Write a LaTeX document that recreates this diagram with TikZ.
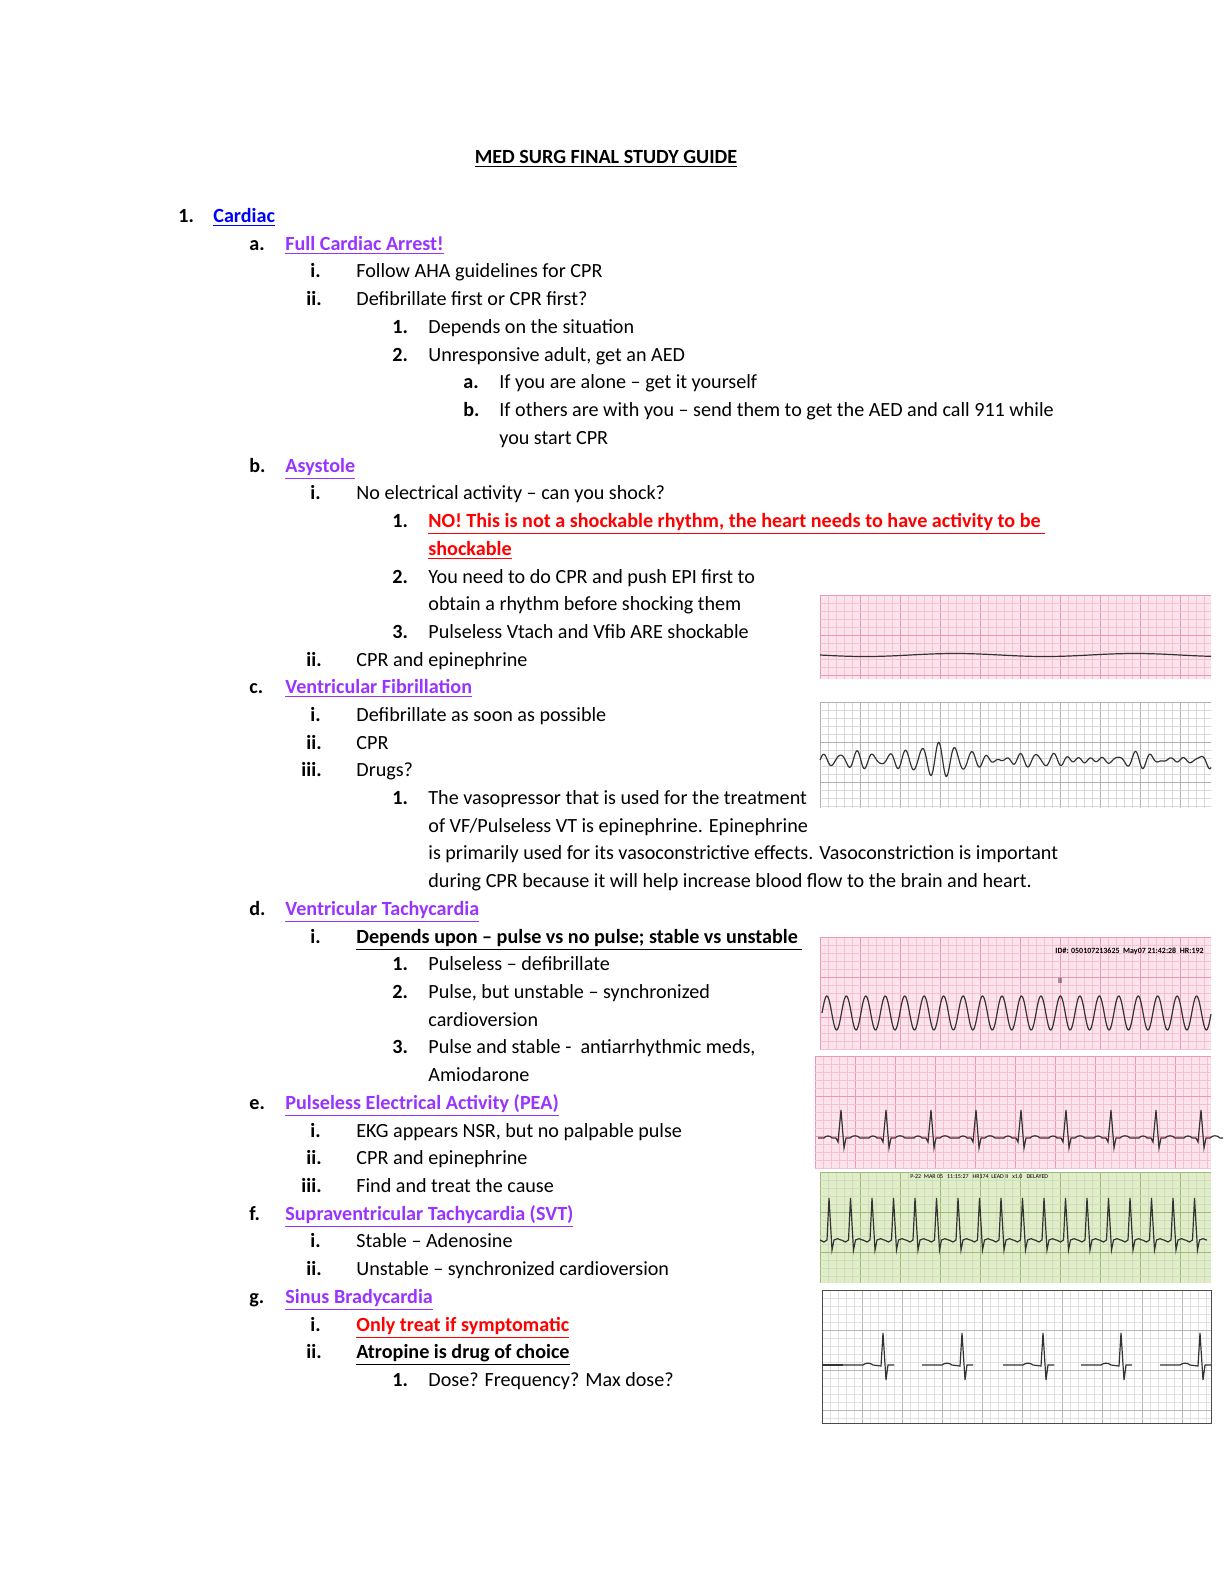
\documentclass[tikz,border=0pt]{standalone}
\usepackage{fontspec}
\setmainfont{Carlito}
\definecolor{lnk}{RGB}{0,0,255}
\definecolor{vio}{RGB}{153,51,255}
\definecolor{pk}{RGB}{240,150,180}
\definecolor{pkb}{RGB}{252,228,236}
\definecolor{gr}{RGB}{150,190,120}
\definecolor{grb}{RGB}{226,236,200}
\begin{document}
\begin{tikzpicture}[x=0.5bp,y=-0.5bp,
 t/.style={anchor=base west,inner sep=0pt,font=\fontsize{10.1}{12}\selectfont},
 lb/.style={anchor=base west,inner sep=0pt,font=\fontsize{10.1}{12}\selectfont\bfseries},
 hd/.style={anchor=base west,inner sep=0pt,font=\fontsize{10.1}{12}\selectfont\bfseries,text=vio},
 ecg/.style={line width=0.6pt,black!80}]
\useasboundingbox (0,0) rectangle (1224,1584);
\node[anchor=base,inner sep=0pt,font=\fontsize{10.1}{12}\selectfont\bfseries] (title) at (606,163) {\underline{MED SURG FINAL STUDY GUIDE}};
\node[lb] (l1) at (178,222) {1.}; \node[t,text=lnk,font=\fontsize{10.1}{12}\selectfont\bfseries] (cardiac) at (213,222) {\underline{Cardiac}};
% a
\node[lb] at (249,250) {a.}; \node[hd] (fca) at (285,250) {\underline{Full Cardiac Arrest!}};
\node[lb] at (310,277) {i.}; \node[t] at (356,277) {Follow AHA guidelines for CPR};
\node[lb] at (306,305) {ii.}; \node[t] at (356,305) {Defibrillate first or CPR first?};
\node[lb] at (392,333) {1.}; \node[t] at (428,333) {Depends on the situation};
\node[lb] at (392,361) {2.}; \node[t] at (428,361) {Unresponsive adult, get an AED};
\node[lb] at (463,388) {a.}; \node[t] at (499,388) {If you are alone -- get it yourself};
\node[lb] at (463,416) {b.}; \node[t] at (499,416) {If others are with you -- send them to get the AED and call 911 while};
\node[t] at (499,444) {you start CPR};
% b
\node[lb] at (249,472) {b.}; \node[hd] (asy) at (285,472) {\underline{Asystole}};
\node[lb] at (310,499) {i.}; \node[t] at (356,499) {No electrical activity -- can you shock?};
\node[lb] at (392,527) {1.}; \node[t,text=red,font=\fontsize{10.1}{12}\selectfont\bfseries] at (428,527) {\underline{NO! This is not a shockable rhythm, the heart needs to have activity to be }};
\node[t,text=red,font=\fontsize{10.1}{12}\selectfont\bfseries] at (428,555) {\underline{shockable}};
\node[lb] at (392,583) {2.}; \node[t] at (428,583) {You need to do CPR and push EPI first to};
\node[t] at (428,610) {obtain a rhythm before shocking them};
\node[lb] at (392,638) {3.}; \node[t] at (428,638) {Pulseless Vtach and Vfib ARE shockable};
\node[lb] at (306,666) {ii.}; \node[t] at (356,666) {CPR and epinephrine};
% c
\node[lb] at (249,693) {c.}; \node[hd] at (285,693) {\underline{Ventricular Fibrillation}};
\node[lb] at (310,721) {i.}; \node[t] at (356,721) {Defibrillate as soon as possible};
\node[lb] at (306,749) {ii.}; \node[t] at (356,749) {CPR};
\node[lb] at (301,776) {iii.}; \node[t] at (356,776) {Drugs?};
\node[lb] at (392,804) {1.}; \node[t] at (428,804) {The vasopressor that is used for the treatment};
\node[t] at (428,832) {of VF/Pulseless VT is epinephrine. Epinephrine};
\node[t] at (428,859) {is primarily used for its vasoconstrictive effects. Vasoconstriction is important};
\node[t] at (428,887) {during CPR because it will help increase blood flow to the brain and heart.};
% d
\node[lb] at (249,915) {d.}; \node[hd] at (285,915) {\underline{Ventricular Tachycardia}};
\node[lb] at (310,943) {i.}; \node[t,font=\fontsize{10.1}{12}\selectfont\bfseries] at (356,943) {\underline{Depends upon -- pulse vs no pulse; stable vs unstable }};
\node[lb] at (392,970) {1.}; \node[t] at (428,970) {Pulseless -- defibrillate};
\node[lb] at (392,998) {2.}; \node[t] at (428,998) {Pulse, but unstable -- synchronized};
\node[t] at (428,1026) {cardioversion};
\node[lb] at (392,1053) {3.}; \node[t] at (428,1053) {Pulse and stable -\ \ antiarrhythmic meds,};
\node[t] at (428,1081) {Amiodarone};
% e
\node[lb] at (249,1109) {e.}; \node[hd] at (285,1109) {\underline{Pulseless Electrical Activity (PEA)}};
\node[lb] at (310,1137) {i.}; \node[t] at (356,1137) {EKG appears NSR, but no palpable pulse};
\node[lb] at (306,1164) {ii.}; \node[t] at (356,1164) {CPR and epinephrine};
\node[lb] at (301,1192) {iii.}; \node[t] at (356,1192) {Find and treat the cause};
% f
\node[lb] at (249,1220) {f.}; \node[hd] at (285,1220) {\underline{Supraventricular Tachycardia (SVT)}};
\node[lb] at (310,1247) {i.}; \node[t] at (356,1247) {Stable -- Adenosine};
\node[lb] at (306,1275) {ii.}; \node[t] at (356,1275) {Unstable -- synchronized cardioversion};
% g
\node[lb] at (249,1303) {g.}; \node[hd] at (285,1303) {\underline{Sinus Bradycardia}};
\node[lb] at (310,1331) {i.}; \node[t,text=red,font=\fontsize{10.1}{12}\selectfont\bfseries] at (356,1331) {\underline{Only treat if symptomatic}};
\node[lb] at (306,1358) {ii.}; \node[t,font=\fontsize{10.1}{12}\selectfont\bfseries] at (356,1358) {\underline{Atropine is drug of choice}};
\node[lb] at (392,1386) {1.}; \node[t] at (428,1386) {Dose? Frequency? Max dose?};

\newcommand{\strip}[7]{%
 \fill[#5] (#1,#2) rectangle (#3,#4);
 \pgfmathtruncatemacro{\nx}{(#3-#1)/8}\pgfmathtruncatemacro{\ny}{(#4-#2)/8}
 \foreach \i in {0,...,\nx}{\pgfmathtruncatemacro{\m}{mod(\i,5)}
   \ifnum\m=0 \draw[#7,line width=0.5pt] ({#1+8*\i},#2) -- ({#1+8*\i},#4);\else
   \draw[#6,line width=0.25pt] ({#1+8*\i},#2) -- ({#1+8*\i},#4);\fi}
 \foreach \i in {0,...,\ny}{\pgfmathtruncatemacro{\m}{mod(\i,5)}
   \ifnum\m=0 \draw[#7,line width=0.5pt] (#1,{#2+8*\i}) -- (#3,{#2+8*\i});\else
   \draw[#6,line width=0.25pt] (#1,{#2+8*\i}) -- (#3,{#2+8*\i});\fi}
}
% asystole
\strip{820}{595}{1211}{679}{pkb}{pk!60}{pk}
\draw[ecg] plot[domain=820:1211,samples=80] (\x,{655+1.5*sin((\x-820)*2)});
% VF
\strip{820}{702}{1211}{808}{white}{black!15}{black!30}
\draw[ecg] plot[domain=820:1211,samples=600] (\x,{760-(3+9*max(0,sin((\x-820)*1.1-30))+4*sin((\x-820)*3.7))*sin((\x-820)*22)-2*sin((\x-820)*31)});
% VT
\strip{820}{937}{1211}{1050}{pkb}{pk!60}{pk}
\draw[ecg] plot[domain=822:1211,samples=500] (\x,{1013-17*sin((\x-822)*18.5)});
\node[anchor=west,inner sep=0pt,font=\fontsize{4}{5}\selectfont\bfseries] at (1055,951) {ID\#: 050107213625 \ May07 21:42:28 \ HR:192};
\node[inner sep=0pt,font=\fontsize{4}{5}\selectfont] at (1060,981) {II};
% PEA
\strip{815}{1056}{1211}{1168}{pkb}{pk!60}{pk}
\foreach \k in {0,...,8}{\pgfmathsetmacro{\bx}{818+45*\k}
 \draw[ecg] (\bx,1138) -- ++(6,0) to[bend left=60] ++(8,0) -- ++(4,0) -- ++(2,4) -- ++(3,-32) -- ++(3,38) -- ++(2,-10) -- ++(4,0) to[bend left=50] ++(10,0) -- ++(3,0);}
% SVT
\strip{820}{1172}{1211}{1283}{grb}{gr!50}{gr}
\node[anchor=west,inner sep=0pt,font=\fontsize{3}{4}\selectfont] at (910,1177) {P-22 \ MAR 05 \ \ 11:15:27 \ \ HR174 \ LEAD II \ \ x1.0 \ \ DELAYED};
\foreach \k in {0,...,17}{\pgfmathsetmacro{\bx}{820+21.5*\k}
 \draw[ecg] (\bx,1240) -- ++(4,2) -- ++(3,-2) -- ++(2,-42) -- ++(3,52) -- ++(2,-10) to[bend left=40] ++(7,0) -- ++(0.5,0);}
% Brady
\strip{822}{1290}{1211}{1423}{white}{black!12}{black!28}
\draw[black!70] (822,1290) rectangle (1211,1423);
\foreach \bx in {883,962,1043,1121,1200}{
 \draw[ecg] (\bx-40,1365) -- (\bx-20,1365) to[bend left=40] (\bx-10,1365) -- (\bx-2,1366) -- (\bx,1333) -- (\bx+3,1380) -- (\bx+5,1365) -- (\bx+11,1365);}
\draw[ecg] (822,1365) -- (843,1365);
\end{tikzpicture}
\end{document}
